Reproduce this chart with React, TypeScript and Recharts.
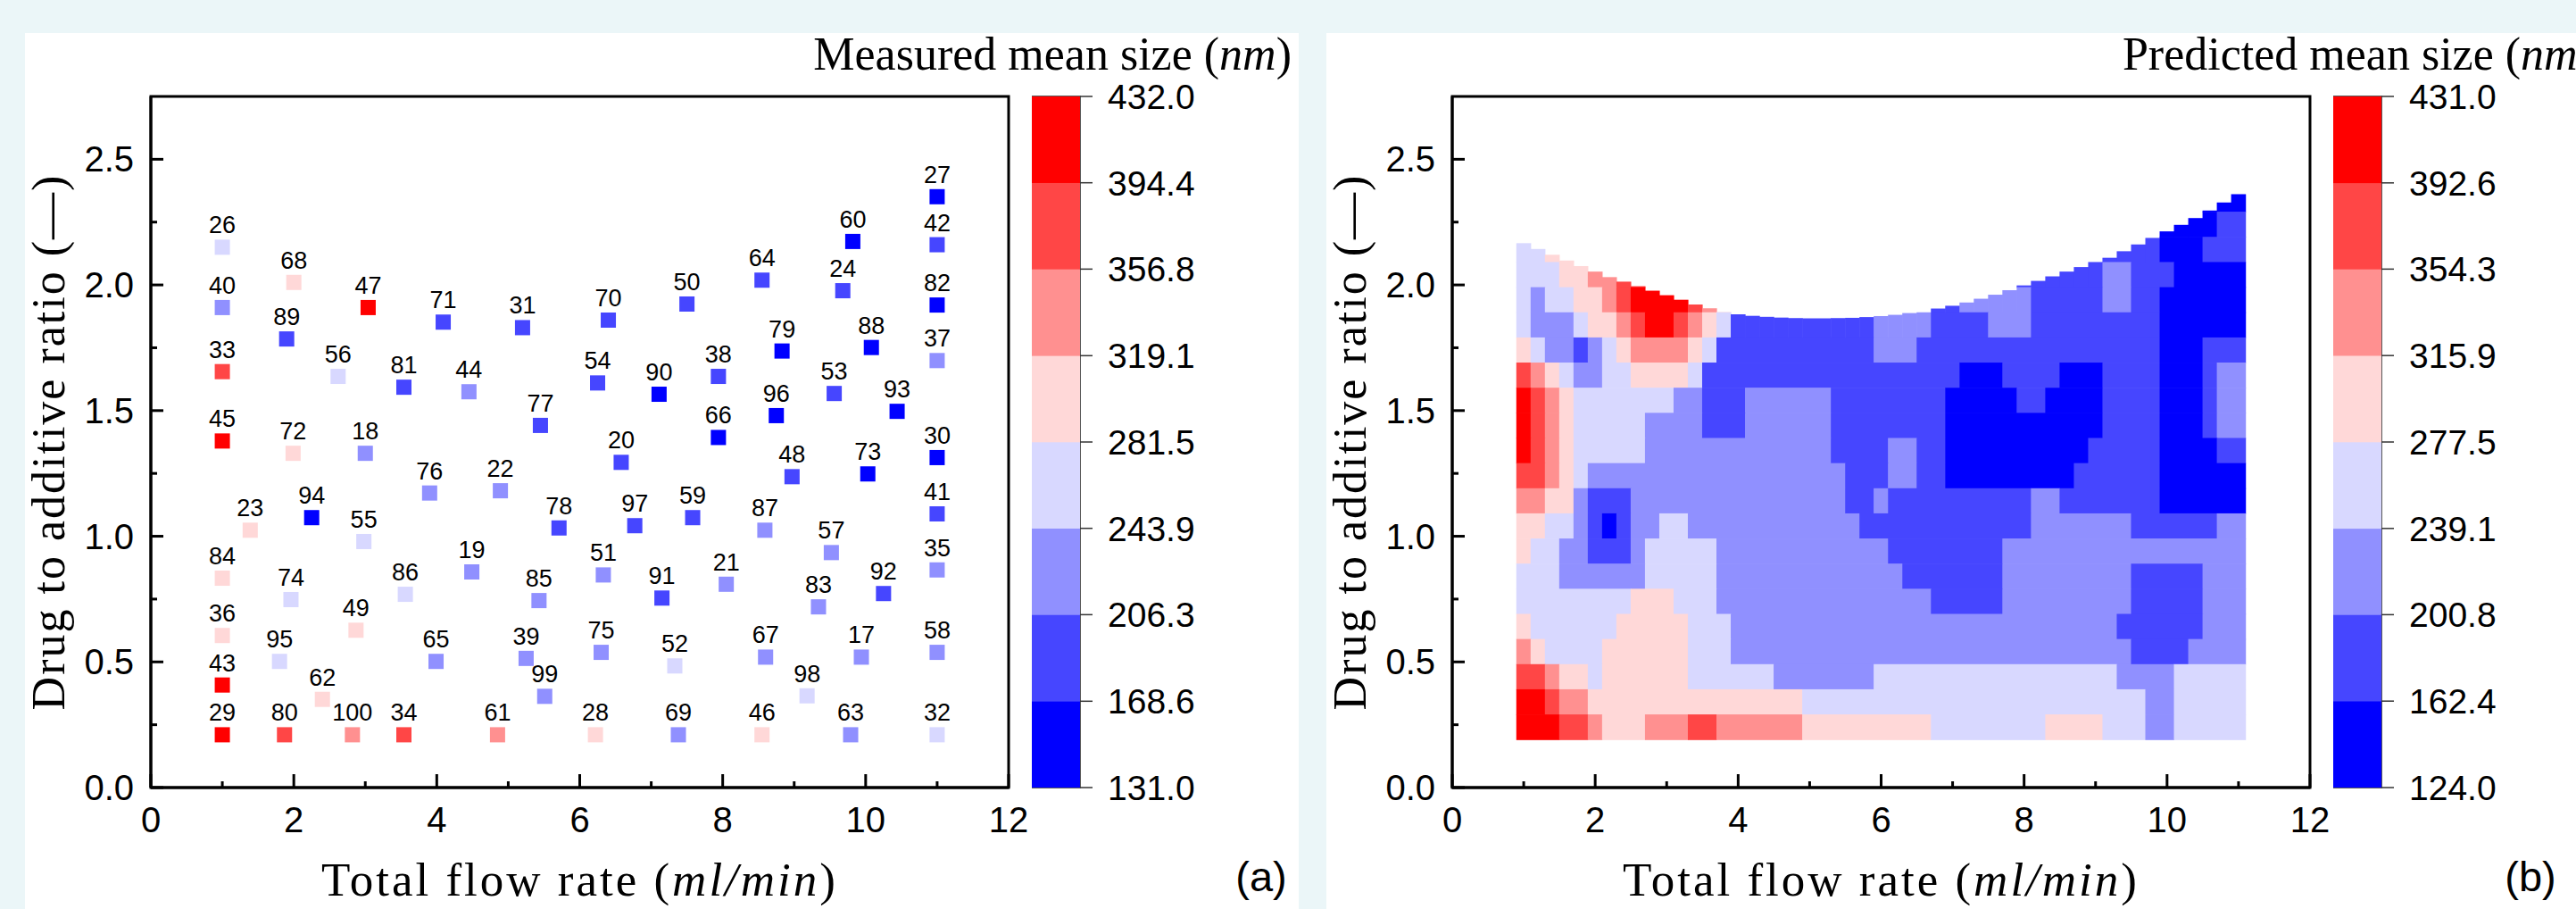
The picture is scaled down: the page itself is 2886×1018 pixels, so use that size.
import React from 'react';
import { ScatterChart, Scatter, XAxis, YAxis, ReferenceArea } from 'recharts';

// ---------------- data ----------------
const measuredLabels = [26, 68, 40, 47, 71, 31, 70, 50, 89, 33, 56, 81, 44, 54, 90, 38, 77, 45, 66, 72, 18, 20, 27, 60, 42, 64, 24, 82, 79, 88, 37, 53, 93, 96, 30, 73, 48, 76, 22, 23, 94, 55, 78, 97, 59, 87, 41, 57, 35, 84, 74, 86, 19, 85, 51, 91, 21, 92, 83, 36, 49, 95, 65, 39, 75, 52, 67, 17, 58, 43, 62, 99, 98, 29, 80, 100, 34, 61, 28, 69, 46, 63, 32];
const measuredFlowRate = [1.0, 2.0, 1.0, 3.04, 4.09, 5.2, 6.4, 7.5, 1.9, 1.0, 2.62, 3.54, 4.45, 6.25, 7.11, 7.94, 5.45, 1.0, 7.94, 1.99, 3.0, 6.58, 11.0, 9.82, 11.0, 8.55, 9.68, 11.0, 8.83, 10.08, 11.0, 9.56, 10.44, 8.75, 11.0, 10.03, 8.97, 3.9, 4.89, 1.39, 2.25, 2.98, 5.71, 6.77, 7.58, 8.59, 11.0, 9.52, 11.0, 1.0, 1.96, 3.56, 4.49, 5.43, 6.33, 7.15, 8.05, 10.25, 9.34, 1.0, 2.87, 1.8, 3.99, 5.25, 6.3, 7.33, 8.6, 9.94, 11.0, 1.0, 2.4, 5.51, 9.18, 1.0, 1.87, 2.82, 3.54, 4.85, 6.22, 7.38, 8.55, 9.79, 11.0];
const measuredRatio = [2.15, 2.01, 1.91, 1.91, 1.852, 1.83, 1.86, 1.924, 1.785, 1.655, 1.636, 1.593, 1.575, 1.61, 1.565, 1.636, 1.441, 1.379, 1.393, 1.33, 1.33, 1.294, 2.351, 2.173, 2.16, 2.019, 1.977, 1.92, 1.737, 1.751, 1.699, 1.568, 1.497, 1.48, 1.313, 1.248, 1.237, 1.172, 1.181, 1.024, 1.074, 0.979, 1.033, 1.042, 1.074, 1.024, 1.089, 0.935, 0.866, 0.833, 0.748, 0.769, 0.858, 0.744, 0.846, 0.754, 0.809, 0.772, 0.719, 0.605, 0.626, 0.502, 0.502, 0.514, 0.538, 0.484, 0.519, 0.519, 0.538, 0.408, 0.351, 0.363, 0.365, 0.21, 0.21, 0.21, 0.21, 0.21, 0.21, 0.21, 0.21, 0.21, 0.21];
const measuredSize = [262, 296, 228, 432, 183, 190, 186, 193, 181, 377, 258, 178, 221, 185, 152, 189, 184, 418, 148, 301, 226, 180, 131, 147, 176, 188, 191, 140, 155, 150, 219, 187, 158, 145, 143, 153, 179, 224, 218, 289, 160, 266, 182, 177, 194, 230, 172, 227, 222, 293, 270, 255, 215, 229, 220, 185, 233, 175, 231, 298, 305, 264, 225, 217, 236, 260, 232, 223, 228, 410, 292, 213, 268, 425, 372, 336, 381, 331, 287, 226, 295, 216, 259];

const measuredLevels = [131.0, 168.6, 206.3, 243.9, 281.5, 319.1, 356.8, 394.4, 432.0];
const predictedLevels = [124.0, 162.4, 200.8, 239.1, 277.5, 315.9, 354.3, 392.6, 431.0];
const levelColors = ['#0000ff', '#4646ff', '#9090ff', '#d8d8ff', '#ffd8d8', '#ff9090', '#ff4646', '#ff0000'];

const xTicks = [0, 1, 2, 3, 4, 5, 6, 7, 8, 9, 10, 11, 12];
const yTicks = [0, 0.25, 0.5, 0.75, 1.0, 1.25, 1.5, 1.75, 2.0, 2.25, 2.5];

// predicted surface: grid columns (flow rate), rows (ratio, top to bottom), level index per cell
const gridFlowRate = [1.0, 1.2, 1.4, 1.6, 1.8, 2.0, 2.2, 2.4, 2.6, 2.8, 3.0, 3.2, 3.4, 3.6, 3.8, 4.0, 4.2, 4.4, 4.6, 4.8, 5.0, 5.2, 5.4, 5.6, 5.8, 6.0, 6.2, 6.4, 6.6, 6.8, 7.0, 7.2, 7.4, 7.6, 7.8, 8.0, 8.2, 8.4, 8.6, 8.8, 9.0, 9.2, 9.4, 9.6, 9.8, 10.0, 10.2, 10.4, 10.6, 10.8, 11.0];
const gridRatio = [2.34, 2.24, 2.14, 2.04, 1.94, 1.84, 1.74, 1.64, 1.54, 1.44, 1.34, 1.24, 1.14, 1.04, 0.94, 0.84, 0.74, 0.64, 0.54, 0.44, 0.34, 0.24];
const surfaceTop = [2.165, 2.142, 2.119, 2.096, 2.074, 2.052, 2.03, 2.012, 1.994, 1.976, 1.958, 1.94, 1.921, 1.906, 1.891, 1.882, 1.876, 1.872, 1.869, 1.867, 1.866, 1.866, 1.867, 1.868, 1.871, 1.875, 1.88, 1.887, 1.895, 1.905, 1.916, 1.929, 1.944, 1.96, 1.978, 1.997, 2.015, 2.033, 2.052, 2.07, 2.09, 2.107, 2.133, 2.16, 2.186, 2.212, 2.238, 2.265, 2.295, 2.327, 2.36];
const predictedLevelRows = [
  '..... ..... ..... ..... ..... ..... ..... ..... ..... ..000 0',
  '..... ..... ..... ..... ..... ..... ..... ..... ..... 00001 1',
  '33444 ..... ..... ..... ..... ..... ..... ..... 11111 00011 1',
  '33344 5566. ..... ..... ..... ..... ..... 11111 12211 10000 0',
  '32334 45677 77654 ..... ..... ....1 12222 21111 12211 00000 0',
  '32223 44567 76543 11111 11111 22221 11122 21111 11111 00000 0',
  '43221 23455 55431 11111 11111 22211 11111 11111 11111 00011 1',
  '65432 23344 44311 11111 11111 11111 10001 11100 01111 00012 2',
  '76543 33333 32211 12222 22111 11111 00000 11000 01111 00012 2',
  '76543 33332 22211 12222 22111 11111 00000 00000 01111 00012 2',
  '76543 33332 22222 22222 22111 12211 00000 00000 11111 00001 1',
  '66543 22222 22222 22222 22211 12211 00000 00001 11111 00000 0',
  '55442 11122 22222 22222 22211 21111 11111 12211 11111 00000 0',
  '44332 10122 33222 22222 22221 11111 11111 12222 22211 11112 2',
  '43322 11123 33332 22222 22222 21111 11112 22222 22222 22222 2',
  '33322 22223 33332 22222 22222 22111 11112 22222 22211 11122 2',
  '33333 33344 43332 22222 22222 22221 11112 22222 22211 11122 2',
  '43333 33444 44333 22222 22222 22222 22222 22222 22111 11122 2',
  '54333 34444 44333 22222 22222 22222 22222 22222 22211 11222 2',
  '66544 34444 44333 33322 22222 33333 33333 33333 33222 23333 3',
  '77655 44444 44444 44444 33333 33333 33333 33333 33332 23333 3',
  '77766 54445 55665 55555 44444 44443 33333 33444 43332 23333 3',
];

// ---------------- layout ----------------
const SANS = '"Liberation Sans", Arial, Helvetica, sans-serif';
const SERIF = '"Liberation Serif", "Times New Roman", serif';
const PANEL_W = 1427;
const PANEL_H = 981;
const AX = 1; // axis box thickness
const M = { left: 140, top: 71, right: 325, bottom: 135 };
const PLOT_W = PANEL_W - M.left - AX - M.right;
const PLOT_H = PANEL_H - M.top - M.bottom - AX;
const X_MAX = 12;
const Y_MAX = 2.75;
const PX_X = PLOT_W / X_MAX;
const PX_Y = PLOT_H / Y_MAX;
const CB_LEFT = 1128;
const CB_BAR_W = 54;
const CB_W = 290;

function colorFor(v: number, edges: number[]) {
  let i = 0;
  while (i < edges.length - 2 && v >= edges[i + 1]) i++;
  return levelColors[i];
}

const measuredPoints = measuredLabels.map((lab, i) => ({
  x: measuredFlowRate[i],
  y: measuredRatio[i],
  label: String(lab),
  size: measuredSize[i],
  fill: colorFor(measuredSize[i], measuredLevels),
}));

function buildPredicted() {
  const dx = gridFlowRate[1] - gridFlowRate[0];
  const dy = gridRatio[0] - gridRatio[1];
  const runs: any[] = [];
  predictedLevelRows.forEach((rowStr, r) => {
    const cells = rowStr.replace(/ /g, '');
    const yc = gridRatio[r];
    let cur: any = null;
    for (let c = 0; c < cells.length; c++) {
      const ch = cells[c];
      const y1 = yc - dy / 2;
      const y2 = Math.min(yc + dy / 2, surfaceTop[c]);
      if (ch === '.' || y2 <= y1) { cur = null; continue; }
      const lvl = Number(ch);
      const x1 = gridFlowRate[c] - dx / 2;
      const x2 = gridFlowRate[c] + dx / 2;
      if (cur && cur.lvl === lvl && Math.abs(cur.y2 - y2) < 1e-9) {
        cur.x2 = x2;
      } else {
        cur = { lvl, x1, x2, y1, y2 };
        runs.push(cur);
      }
    }
  });
  return runs.map((r) => {
    const size = (predictedLevels[r.lvl] + predictedLevels[r.lvl + 1]) / 2;
    return {
      x: (r.x1 + r.x2) / 2,
      y: (r.y1 + r.y2) / 2,
      w: r.x2 - r.x1,
      h: r.y2 - r.y1,
      size,
      fill: colorFor(size, predictedLevels),
    };
  });
}
const predictedCells = buildPredicted();

function colorBins(edges: number[]) {
  return edges.slice(0, -1).map((e, i) => ({
    x: 0.5,
    y: (e + edges[i + 1]) / 2,
    h: edges[i + 1] - e,
    fill: levelColors[i],
  }));
}

// ---------------- shapes / ticks ----------------
const PointShape = (props: any) => {
  const { cx, cy, payload } = props;
  const s = 17;
  return (
    <g>
      <rect x={cx - s / 2} y={cy - s / 2} width={s} height={s} fill={payload.fill} />
      <text x={cx} y={cy - s / 2 - 7} textAnchor="middle" fontFamily={SANS} fontSize={27} fill="#000">
        {payload.label}
      </text>
    </g>
  );
};

const CellShape = (props: any) => {
  const { cx, cy, payload } = props;
  const w = payload.w * PX_X + 0.6;
  const h = payload.h * PX_Y + 0.6;
  return <rect x={cx - w / 2} y={cy - h / 2} width={w} height={h} fill={payload.fill} />;
};

const XTick = (props: any) => {
  const { x, y, payload } = props;
  const v = payload.value;
  const major = v % 2 === 0;
  return (
    <g>
      <line x1={x} x2={x} y1={y} y2={y - (major ? 15 : 7)} stroke="#000" strokeWidth={3} />
      {major && (
        <text x={x} y={y + 50} textAnchor="middle" fontFamily={SANS} fontSize={40} fill="#000">
          {v}
        </text>
      )}
    </g>
  );
};

const YTick = (props: any) => {
  const { x, y, payload } = props;
  const v = payload.value;
  const major = Math.abs(v * 2 - Math.round(v * 2)) < 1e-6;
  return (
    <g>
      <line x1={x} x2={x + (major ? 14 : 7)} y1={y} y2={y} stroke="#000" strokeWidth={3} />
      {major && (
        <text x={x - 19} y={y + 14} textAnchor="end" fontFamily={SANS} fontSize={40} fill="#000">
          {v.toFixed(1)}
        </text>
      )}
    </g>
  );
};

const CbTick = (props: any) => {
  const { x, y, payload } = props;
  return (
    <g>
      <line x1={x} x2={x + 14} y1={y} y2={y} stroke="#333" strokeWidth={1.5} />
      <text x={x + 31} y={y + 14} textAnchor="start" fontFamily={SANS} fontSize={39} fill="#000">
        {Number(payload.value).toFixed(1)}
      </text>
    </g>
  );
};

// ---------------- components ----------------
function ColorBar({ edges }: { edges: number[] }) {
  const lo = edges[0];
  const hi = edges[edges.length - 1];
  const pxPerUnit = PLOT_H / (hi - lo);
  const BinShape = (props: any) => {
    const { cx, cy, payload } = props;
    const h = payload.h * pxPerUnit + 0.6;
    return <rect x={cx - CB_BAR_W / 2} y={cy - h / 2} width={CB_BAR_W} height={h} fill={payload.fill} />;
  };
  return (
    <div style={{ position: 'absolute', left: CB_LEFT, top: 0 }}>
      <ScatterChart
        width={CB_W}
        height={PANEL_H}
        margin={{ top: M.top, bottom: M.bottom + AX, left: 0, right: CB_W - CB_BAR_W - AX }}
      >
        <XAxis type="number" dataKey="x" domain={[0, 1]} hide />
        <YAxis
          type="number"
          dataKey="y"
          orientation="right"
          domain={[lo, hi]}
          ticks={edges}
          interval={0}
          width={AX}
          tickSize={0}
          tickMargin={0}
          tickLine={false}
          axisLine={false}
          allowDataOverflow
          tick={(p: any) => <CbTick {...p} />}
        />
        <Scatter data={colorBins(edges)} shape={(p: any) => <BinShape {...p} />} isAnimationActive={false} />
        <ReferenceArea x1={0} x2={1} y1={lo} y2={hi} fill="none" fillOpacity={0} stroke="#222" strokeWidth={1.5} />
      </ScatterChart>
    </div>
  );
}

function Panel({ left, kind }: { left: number; kind: 'measured' | 'predicted' }) {
  const isM = kind === 'measured';
  const edges = isM ? measuredLevels : predictedLevels;
  const plotLeft = M.left + AX;
  return (
    <div
      style={{
        position: 'absolute',
        left,
        top: 37,
        width: PANEL_W,
        height: PANEL_H,
        background: '#ffffff',
      }}
    >
      <div style={{ position: 'absolute', left: 0, top: 0 }}>
        <ScatterChart width={PANEL_W} height={PANEL_H} margin={M}>
          <XAxis
            type="number"
            dataKey="x"
            domain={[0, X_MAX]}
            ticks={xTicks}
            interval={0}
            height={AX}
            tickSize={0}
            tickMargin={0}
            tickLine={false}
            allowDataOverflow
            axisLine={{ stroke: '#000', strokeWidth: 3 }}
            tick={(p: any) => <XTick {...p} />}
          />
          <YAxis
            type="number"
            dataKey="y"
            domain={[0, Y_MAX]}
            ticks={yTicks}
            interval={0}
            width={AX}
            tickSize={0}
            tickMargin={0}
            tickLine={false}
            allowDataOverflow
            axisLine={{ stroke: '#000', strokeWidth: 3 }}
            tick={(p: any) => <YTick {...p} />}
          />
          <ReferenceArea x1={0} x2={X_MAX} y1={0} y2={Y_MAX} fill="none" fillOpacity={0} stroke="#000" strokeWidth={3} />
          {isM ? (
            <Scatter data={measuredPoints} shape={(p: any) => <PointShape {...p} />} isAnimationActive={false} />
          ) : (
            <Scatter data={predictedCells} shape={(p: any) => <CellShape {...p} />} isAnimationActive={false} />
          )}
        </ScatterChart>
      </div>
      <ColorBar edges={edges} />
      <svg
        width={PANEL_W}
        height={PANEL_H}
        style={{ position: 'absolute', left: 0, top: 0, pointerEvents: 'none', overflow: 'visible' }}
      >
        <text
          x={44}
          y={M.top + PLOT_H / 2}
          transform={`rotate(-90 44 ${M.top + PLOT_H / 2})`}
          textAnchor="middle"
          fontFamily={SERIF}
          fontSize={52}
          letterSpacing={2}
          fill="#000"
        >
          Drug to additive ratio (—)
        </text>
        <text
          x={plotLeft + PLOT_W / 2}
          y={966}
          textAnchor="middle"
          fontFamily={SERIF}
          fontSize={53}
          letterSpacing={3}
          fill="#000"
        >
          Total flow rate (<tspan fontStyle="italic">ml/min</tspan>)
        </text>
        <text x={1419} y={41} textAnchor="end" fontFamily={SERIF} fontSize={52} fill="#000">
          {isM ? 'Measured mean size ' : 'Predicted mean size '}(<tspan fontStyle="italic">nm</tspan>)
        </text>
        <text x={isM ? 1385 : 1349} y={961} textAnchor="middle" fontFamily={SANS} fontSize={47} fill="#000">
          {isM ? '(a)' : '(b)'}
        </text>
      </svg>
    </div>
  );
}

export default function App() {
  return (
    <div
      style={{
        position: 'fixed',
        left: 0,
        top: 0,
        width: 2886,
        height: 1018,
        overflow: 'hidden',
        background: '#ebf6f8',
      }}
    >
      <Panel left={28} kind="measured" />
      <Panel left={1486} kind="predicted" />
    </div>
  );
}
